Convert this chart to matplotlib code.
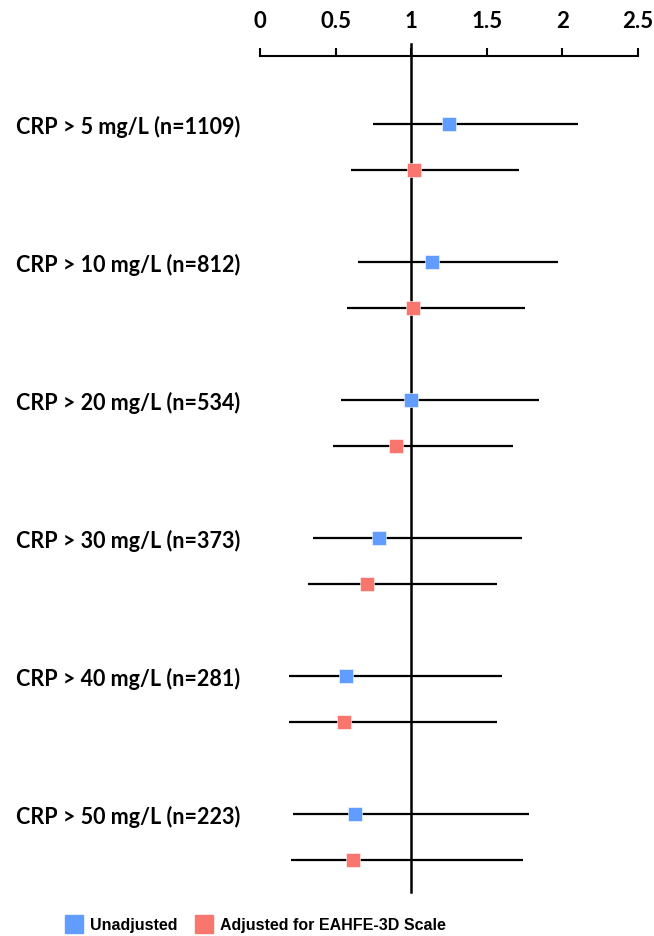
import matplotlib
matplotlib.use("Agg")
import matplotlib.pyplot as plt
import matplotlib.transforms as mtransforms
from matplotlib.lines import Line2D
import numpy as np

# ---------------- Data ---------------- #
labels = ["CRP > 5 mg/L (n=1109)", "CRP > 10 mg/L (n=812)", "CRP > 20 mg/L (n=534)",
          "CRP > 30 mg/L (n=373)", "CRP > 40 mg/L (n=281)", "CRP > 50 mg/L (n=223)"]

unadj_est = [1.25, 1.14, 1.00, 0.785, 0.57, 0.63]
unadj_lo = [0.75, 0.65, 0.535, 0.35, 0.195, 0.215]
unadj_hi = [2.10, 1.97, 1.845, 1.73, 1.60, 1.78]

adj_est = [1.02, 1.01, 0.90, 0.71, 0.555, 0.615]
adj_lo = [0.60, 0.575, 0.485, 0.315, 0.19, 0.205]
adj_hi = [1.715, 1.75, 1.67, 1.57, 1.565, 1.74]

xticks = [0, 0.5, 1, 1.5, 2, 2.5]

blue = "#619CFF"
red = "#F8766D"

# ---------------- Figure ---------------- #
W, H = 654, 937
fig = plt.figure(figsize=(W / 100, H / 100), dpi=100)
ax = fig.add_axes([260 / W, 1 - 893 / H, 378 / W, (893 - 56.7) / H])

rows = np.arange(len(labels)) * 3
y_un = rows
y_adj = rows + 1

ax.hlines(y_un, unadj_lo, unadj_hi, color="black", lw=1.6, zorder=2)
ax.hlines(y_adj, adj_lo, adj_hi, color="black", lw=1.6, zorder=2)
ax.axvline(1, ymin=0, ymax=1.014, color="black", lw=1.8, zorder=3, clip_on=False)
ax.plot(unadj_est, y_un, "s", color=blue, ms=10, mec="white", mew=0.4, zorder=4)
ax.plot(adj_est, y_adj, "s", color=red, ms=10, mec="white", mew=0.4, zorder=4)

ax.set_xlim(0, 2.5)
ax.set_ylim(y_adj[-1] + 0.696, -1.485)

ax.xaxis.tick_top()
ax.set_xticks(xticks)
ax.set_xticklabels([f"{t:g}" for t in xticks], fontfamily="Lato", fontweight="bold", fontsize=16)
ax.tick_params(axis="x", direction="out", length=6, width=1.5, pad=12)
ax.set_yticks([])
for s in ["left", "right", "bottom"]:
    ax.spines[s].set_visible(False)
ax.spines["top"].set_linewidth(1.5)

trans = mtransforms.blended_transform_factory(fig.transFigure, ax.transData)
for y, lab in zip(y_un, labels):
    ax.text(16 / W, y + 0.05, lab, transform=trans, ha="left", va="center",
            fontfamily="Lato", fontweight="bold", fontsize=15.5)

handles = [Line2D([], [], marker="s", ls="none", color=blue, ms=12.5),
           Line2D([], [], marker="s", ls="none", color=red, ms=12.5)]
fig.legend(handles, ["Unadjusted", "Adjusted for EAHFE-3D Scale"], loc="center",
           bbox_to_anchor=(256 / W, 1 - 926 / H), ncol=2, frameon=False,
           prop={"family": "Liberation Sans", "weight": "bold", "size": 11.5},
           handlelength=1.0, handletextpad=0.5, columnspacing=1.2)

fig.savefig("out.png", dpi=100)
